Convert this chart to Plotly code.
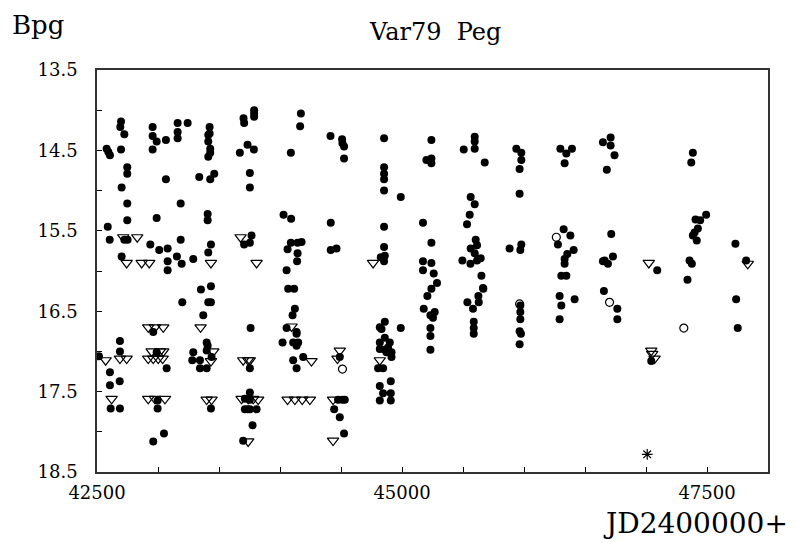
import plotly.graph_objects as go

# Detections (filled circles): JD-2400000, Bpg magnitude
det_jd = [
    42579, 42593, 42606, 42697, 42691, 42724, 42697, 42748, 42748, 42702, 42748, 42748, 42588, 42604, 42724, 42751, 42702,
    42516, 42688, 42688, 42606, 42606, 42686, 42612, 42688,
    42956, 42956, 42989, 42956, 43065, 43065, 42989, 42937, 43010, 43079, 43079, 43079, 42961, 42989, 43071, 42997, 42997,
    42961, 43049,
    43161, 43161, 43161, 43243, 43186, 43186, 43155, 43194, 43289, 43199,
    43338, 43428, 43461, 43423, 43423, 43412, 43412, 43428, 43428, 43412, 43407, 43407, 43434, 43412, 43352, 43434, 43412,
    43434, 43371, 43399, 43407, 43399, 43289, 43281, 43344, 43439, 43344, 43399, 43434,
    43701, 43706, 43788, 43788, 43788, 43734, 43671, 43786, 43753, 43753, 43767, 43706, 43753, 43759, 43753, 43753, 43712,
    43753, 43712, 43753, 43808, 43734, 43775, 43698,
    44171, 44165, 44089, 44029, 44091, 44089, 44144, 44177, 44062, 44144, 44140, 44054, 44067, 44116, 44122, 44103, 44054,
    44136, 44136, 44021, 44108, 44149, 44136, 44190, 44108, 44136,
    44414, 44509, 44512, 44525, 44525, 44416, 44416, 44463, 44490, 44476, 44512, 44531, 44444, 44490, 44525,
    44853, 44853, 44853, 44853, 44853, 44990, 44853, 44853, 44859, 44826, 44853, 44859, 44818, 44832, 44990, 44859, 44818,
    44900, 44886, 44859, 44818, 44914, 44873, 44914, 44804, 44845, 44818, 44908, 44845, 44908, 44818, 44908,
    45241, 45200, 45241, 45241, 45172, 45241, 45172, 45241, 45172, 45260, 45287, 45241, 45208, 45178, 45268, 45233, 45254,
    45233, 45233, 45233,
    45596, 45596, 45596, 45506, 45678, 45563, 45596, 45555, 45533, 45604, 45615, 45563, 45596, 45645, 45615, 45495, 45561,
    45651, 45664, 45667, 45626, 45629, 45536, 45582, 45588, 45588, 45588,
    45937, 45978, 45978, 45964, 45964, 45882, 45978, 45970, 45970, 45970, 45970, 45964, 45975, 45964,
    46298, 46393, 46347, 46333, 46325, 46380, 46278, 46407, 46355, 46333, 46333, 46306, 46347, 46292, 46306, 46292, 46415,
    46647, 46710, 46710, 46742, 46679, 46715, 46661, 46688, 46729, 46647, 46655, 46765, 46765,
    47092, 47043,
    47384, 47371, 47493, 47406, 47444, 47425, 47398, 47384, 47416, 47357, 47376, 47340,
    47733, 47821, 47739, 47752,
]
det_mag = [
    14.48, 14.52, 14.56, 14.14, 14.21, 14.30, 14.49, 14.71, 14.79, 14.96, 15.16, 15.37, 15.45, 15.61, 15.61, 15.61, 15.82,
    17.06, 16.87, 17.00, 17.26, 17.42, 17.37, 17.71, 17.71,
    14.21, 14.32, 14.39, 14.49, 14.37, 14.86, 15.34, 15.67, 15.74, 15.72, 15.88, 15.99, 16.76, 17.01, 17.21, 17.61, 17.71,
    18.12, 18.02,
    14.16, 14.27, 14.35, 14.16, 15.16, 15.61, 15.82, 15.91, 15.85, 16.39,
    14.83, 14.86, 14.79, 14.21, 14.29, 14.31, 14.39, 14.48, 14.53, 14.58, 15.29, 15.37, 15.67, 15.77, 16.23, 16.19, 16.39,
    16.39, 16.55, 16.89, 16.93, 16.99, 17.01, 17.11, 17.11, 17.07, 17.21, 17.21, 17.71,
    14.10, 14.16, 14.00, 14.04, 14.08, 14.43, 14.53, 14.49, 14.78, 14.96, 15.56, 15.67, 15.65, 16.71, 17.21, 17.51, 17.59,
    17.60, 17.72, 17.72, 17.72, 17.72, 17.92, 18.11,
    14.04, 14.20, 14.53, 15.30, 15.35, 15.65, 15.65, 15.64, 15.73, 15.78, 15.88, 15.99, 16.22, 16.22, 16.47, 16.55, 16.71,
    16.76, 16.78, 16.89, 16.89, 16.89, 16.93, 17.07, 17.11, 17.21,
    14.32, 14.36, 14.41, 14.45, 14.60, 15.40, 15.74, 15.72, 17.07, 17.60, 17.60, 17.60, 17.72, 17.82, 18.02,
    14.35, 14.71, 14.79, 14.86, 15.00, 15.08, 15.45, 15.70, 15.81, 15.83, 15.88, 16.63, 16.70, 16.72, 16.71, 16.83, 16.89,
    16.89, 16.95, 16.98, 16.97, 17.01, 17.01, 17.07, 17.21, 17.21, 17.43, 17.37, 17.52, 17.52, 17.61, 17.61,
    14.37, 14.62, 14.60, 14.66, 15.40, 15.65, 15.88, 15.90, 15.99, 16.03, 16.15, 16.22, 16.31, 16.47, 16.51, 16.55, 16.58,
    16.71, 16.81, 16.98,
    14.33, 14.39, 14.48, 14.49, 14.65, 15.08, 15.17, 15.30, 15.42, 15.61, 15.68, 15.72, 15.78, 15.84, 15.87, 15.87, 15.91,
    16.06, 16.21, 16.22, 16.31, 16.39, 16.39, 16.47, 16.63, 16.71, 16.78,
    14.48, 14.53, 14.62, 14.73, 15.04, 15.72, 15.67, 15.74, 16.43, 16.51, 16.60, 16.75, 16.78, 16.91,
    14.48, 14.48, 14.54, 14.66, 15.48, 15.56, 15.67, 15.74, 15.79, 15.85, 15.91, 16.06, 16.06, 16.31, 16.43, 16.60, 16.35,
    14.40, 14.34, 14.44, 14.56, 14.74, 15.54, 15.87, 15.91, 15.82, 15.88, 16.25, 16.47, 16.60,
    15.99, 17.12,
    14.53, 14.65, 15.30, 15.36, 15.37, 15.47, 15.52, 15.56, 15.62, 15.87, 15.91, 16.11,
    15.66, 15.87, 16.35, 16.71,
]

# Upper limits (open down-triangles)
lim_jd = [
    42715, 42830, 42743, 42866, 42928, 43434, 43677, 43808, 44763, 47023, 47834,
    42920, 42975, 43043, 43349, 44095,
    42948, 43016, 43043, 43453, 44490,
    42571, 42688, 42743, 42920, 42961, 43002, 43038, 43434, 43698, 43739, 43753, 44258, 44471, 44818,
    47043, 47051, 47070,
    42620, 42920, 42975, 43057, 43399, 43439, 43685, 43739, 43780, 43821, 44062, 44122, 44182, 44245, 44435,
    43739, 44435,
]
lim_mag = [
    15.58, 15.58, 15.90, 15.90, 15.90, 15.90, 15.58, 15.90, 15.90, 15.90, 15.91,
    16.70, 16.70, 16.70, 16.70, 16.69,
    17.00, 17.00, 17.00, 17.00, 16.99,
    17.11, 17.09, 17.09, 17.09, 17.09, 17.09, 17.09, 17.12, 17.11, 17.11, 17.11, 17.12, 17.09, 17.11,
    16.99, 17.03, 17.09,
    17.59, 17.59, 17.59, 17.59, 17.60, 17.60, 17.59, 17.59, 17.59, 17.60, 17.60, 17.60, 17.60, 17.60, 17.60,
    18.12, 18.11,
]

# Uncertain measurements (open circles)
unc_jd = [44512, 46265, 45964, 46701, 47310]
unc_mag = [17.22, 15.58, 16.41, 16.39, 16.71]

# Special point (asterisk)
ast_jd = [47010]
ast_mag = [18.28]

x_ticks = [42500, 45000, 47500]
y_ticks = [13.5, 14.5, 15.5, 16.5, 17.5, 18.5]

FONT = "DejaVu Serif"

fig = go.Figure()
fig.add_trace(go.Scatter(x=det_jd, y=det_mag, mode="markers",
                         marker=dict(symbol="circle", size=8, color="black", line=dict(width=0))))
fig.add_trace(go.Scatter(x=lim_jd, y=lim_mag, mode="markers",
                         marker=dict(symbol="triangle-down-open", size=10, color="black", line=dict(width=1.2))))
fig.add_trace(go.Scatter(x=unc_jd, y=unc_mag, mode="markers",
                         marker=dict(symbol="circle-open", size=8, color="black", line=dict(width=1.2))))
fig.add_trace(go.Scatter(x=ast_jd, y=ast_mag, mode="markers",
                         marker=dict(symbol="asterisk-open", size=9, color="black", line=dict(width=1.2))))

# The page body has an 8px default margin, so the figure is sized to fit the window.
fig.update_layout(
    width=789, height=535,
    margin=dict(l=89, r=29, t=62, b=71),
    paper_bgcolor="white", plot_bgcolor="white",
    showlegend=False,
    font=dict(family=FONT, color="black", size=18),
)
fig.update_xaxes(
    range=[42500, 48000], tickvals=x_ticks, ticktext=[str(v) for v in x_ticks],
    ticks="inside", ticklen=5, tickwidth=1, tickcolor="black",
    minor=dict(dtick=500, tick0=42500, ticks="inside", ticklen=5, tickcolor="black"),
    showline=True, linecolor="#333333", linewidth=1.5, mirror=True,
    showgrid=False, zeroline=False,
    tickfont=dict(family=FONT, size=18),
    ticklabelstandoff=4,
)
fig.update_yaxes(
    range=[18.5, 13.5], tickvals=y_ticks, ticktext=[f"{v:.1f}" for v in y_ticks],
    ticks="inside", ticklen=5, tickwidth=1, tickcolor="black",
    minor=dict(dtick=0.5, tick0=13.5, ticks="inside", ticklen=5, tickcolor="black"),
    showline=True, linecolor="#333333", linewidth=1.5, mirror=True,
    showgrid=False, zeroline=False,
    tickfont=dict(family=FONT, size=18),
    ticklabelstandoff=14,
)

fig.add_annotation(text="Var79  Peg", xref="paper", yref="paper", x=0.503, y=1.0945,
                   xanchor="center", yanchor="middle", showarrow=False,
                   font=dict(family=FONT, size=24))
fig.add_annotation(text="Bpg", xref="paper", yref="paper", x=-0.1297, y=1.112,
                   xanchor="left", yanchor="middle", showarrow=False,
                   font=dict(family=FONT, size=26))
fig.add_annotation(text="JD2400000+", xref="paper", yref="paper", x=1.033, y=-0.127,
                   xanchor="right", yanchor="middle", showarrow=False,
                   font=dict(family=FONT, size=28))

fig.write_html("out.html")
